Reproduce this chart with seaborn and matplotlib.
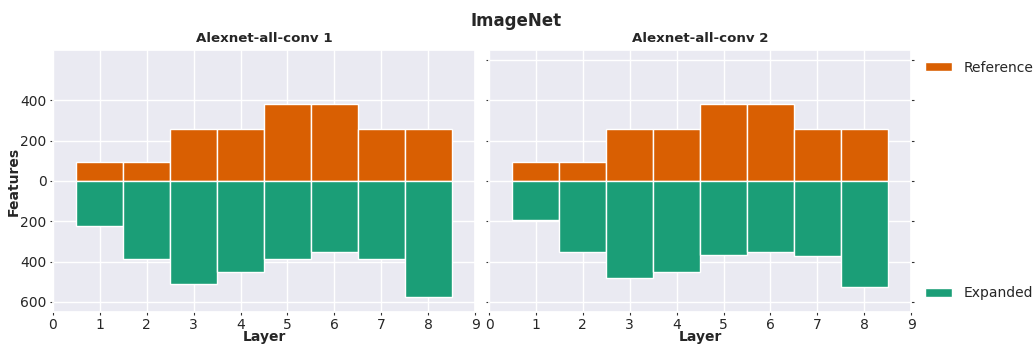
import numpy as np
import matplotlib
matplotlib.use("Agg")
import matplotlib.pyplot as plt
import seaborn as sns
import pandas as pd

layers = [1, 2, 3, 4, 5, 6, 7, 8]
reference = [96, 96, 256, 256, 384, 384, 256, 256]
expanded_1 = [226, 387, 514, 450, 387, 354, 387, 575]
expanded_2 = [195, 354, 481, 450, 370, 354, 373, 527]
panel_titles = ["Alexnet-all-conv 1", "Alexnet-all-conv 2"]
ref_color = "#d95f02"
exp_color = "#1b9e77"

sns.set_theme(style="darkgrid")
plt.rcParams["font.family"] = ["DejaVu Sans"]

fig, axes = plt.subplots(1, 2, figsize=(10.33, 3.45), dpi=100)
fig.subplots_adjust(left=0.0513, right=0.882, top=0.855, bottom=0.096, wspace=0.033)

for ax, title, expanded in zip(axes, panel_titles, [expanded_1, expanded_2]):
    df = pd.DataFrame({"Layer": layers, "Reference": reference,
                       "Expanded": [-v for v in expanded]})
    ax.bar(df["Layer"], df["Reference"], width=1.0, color=ref_color,
           edgecolor="white", linewidth=1.0, label="Reference", zorder=2)
    ax.bar(df["Layer"], df["Expanded"], width=1.0, color=exp_color,
           edgecolor="white", linewidth=1.0, label="Expanded", zorder=2)
    ax.set_xlim(0, 9)
    ax.set_ylim(-650, 650)
    ax.set_xticks(range(10))
    ax.set_title(title, fontsize=9.6, fontweight="bold", pad=6)
    ax.set_xlabel("Layer", fontsize=10, fontweight="bold", labelpad=-1.5)
    ax.tick_params(axis="both", labelsize=10, length=2.5, width=0.8,
                   color="#333333", pad=2, bottom=True)
    ax.grid(True, color="white", linewidth=1.0)
    ax.set_axisbelow(True)

left, right = axes
left.set_yticks([-600, -400, -200, 0, 200, 400])
left.set_yticklabels([str(abs(v)) for v in [-600, -400, -200, 0, 200, 400]])
left.tick_params(axis="y", left=True)
left.set_ylabel("Features", fontsize=10, fontweight="bold", labelpad=0)

right.set_yticks([-600, -400, -200, 0, 200, 400, 600])
right.tick_params(axis="y", left=True, right=True, labelleft=False)

h_ref, h_exp = left.get_legend_handles_labels()[0]
fig.legend([h_ref], ["Reference"], loc="center left", bbox_to_anchor=(0.883, 0.804),
           frameon=False, fontsize=10, handlelength=2.0, handleheight=0.6)
fig.legend([h_exp], ["Expanded"], loc="center left", bbox_to_anchor=(0.883, 0.15),
           frameon=False, fontsize=10, handlelength=2.0, handleheight=0.6)

fig.suptitle("ImageNet", fontsize=12, fontweight="bold", y=0.965)

fig.savefig("out.png", dpi=100)
